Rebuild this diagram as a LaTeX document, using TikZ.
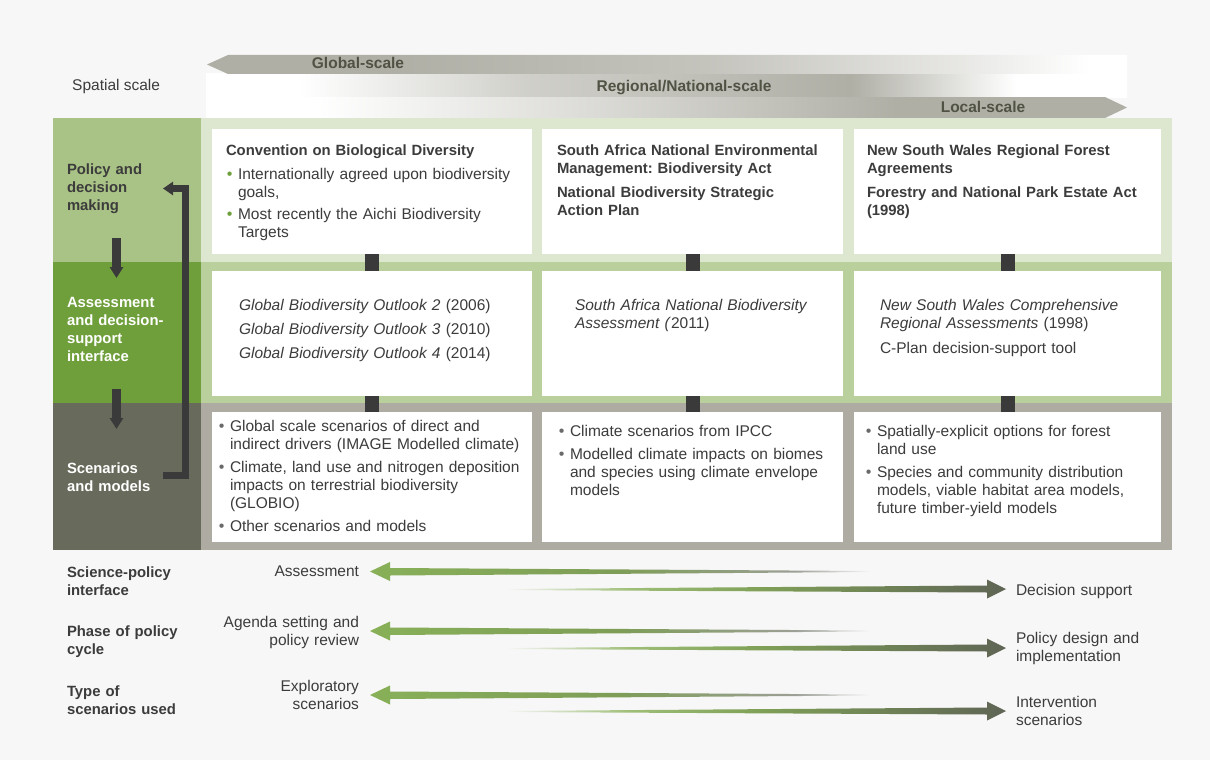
\documentclass[tikz,border=0pt]{standalone}
\usepackage{fontspec}
\setmainfont{Liberation Sans}
\usetikzlibrary{arrows.meta}
\definecolor{bg}{HTML}{F7F7F7}
\definecolor{lgA}{HTML}{A9C285}
\definecolor{rgA}{HTML}{DDE6CF}
\definecolor{lgB}{HTML}{6F9F3B}
\definecolor{rgB}{HTML}{B9CF9C}
\definecolor{lgC}{HTML}{686A5B}
\definecolor{rgC}{HTML}{AEACA2}
\definecolor{dk}{HTML}{3A3A3A}
\definecolor{txt}{HTML}{3C3C3C}
\definecolor{bandgray}{HTML}{B0AFA6}
\definecolor{bandtxt}{HTML}{505244}
\definecolor{agreen}{HTML}{88B058}
\definecolor{adark}{HTML}{5F6555}
\definecolor{bgreen}{HTML}{6F9F3B}
\definecolor{bgray}{HTML}{6A6A6A}
% path bounding box maps onto 25bp..75bp
\pgfdeclarehorizontalshading{globalsh}{100bp}{color(0bp)=(bandgray); color(35bp)=(bandgray); color(52bp)=(bandgray!75!white); color(66bp)=(bandgray!30!white); color(73bp)=(white); color(100bp)=(white)}
\pgfdeclarehorizontalshading{regionsh}{100bp}{color(0bp)=(white); color(30bp)=(white); color(42.5bp)=(bandgray!60!white); color(60bp)=(bandgray); color(69bp)=(white); color(100bp)=(white)}
\pgfdeclarehorizontalshading{localsh}{100bp}{color(0bp)=(white); color(31bp)=(white); color(47.5bp)=(bandgray!50!white); color(62.5bp)=(bandgray); color(100bp)=(bandgray)}
\pgfdeclarehorizontalshading{leftarr}{100bp}{color(0bp)=(agreen); color(25bp)=(agreen); color(50bp)=(agreen!75!adark); color(67.5bp)=(adark!60!bg); color(75bp)=(bg); color(100bp)=(bg)}
\pgfdeclarehorizontalshading{rightarr}{100bp}{color(0bp)=(bg); color(25bp)=(bg); color(37.5bp)=(agreen!80!bg); color(50bp)=(agreen!80!adark); color(75bp)=(adark); color(100bp)=(adark)}
\newcommand\fsz{\fontsize{15.5}{18}\selectfont}
\newcommand\fbz{\fontsize{14.85}{18}\selectfont\bfseries}
\newcommand\gbul{\makebox[0pt][r]{\textcolor{bgreen}{\fontsize{16}{16}\selectfont\textbullet}\hspace{5.5pt}}}
\newcommand\ybul{\makebox[0pt][r]{\textcolor{bgray}{\fontsize{16}{16}\selectfont\textbullet}\hspace{5.5pt}}}
\frenchspacing
\tikzset{
  cell/.style={anchor=north west, inner sep=0, outer sep=0, draw=none},
  box/.style={cell, fill=white},
  conn/.style={draw=dk, line width=14pt},
  tb/.style={anchor=base west, inner sep=0, outer sep=0, text width=#1, align=left, font=\fsz, text=txt},
  tr/.style={anchor=base east, inner sep=0, outer sep=0, text width=#1, align=right, font=\fsz, text=txt},
  lab/.style={anchor=base west, inner sep=0, outer sep=0, text width=140pt, align=left, font=\fbz},
  band/.style={anchor=base, inner sep=0, font=\fontsize{15.5}{18}\selectfont\bfseries, text=bandtxt},
  downarrow/.style={draw=dk, line width=9pt, -{Triangle[length=11pt,width=13pt]}},
  looparrow/.style={draw=dk, line width=7pt, -{Triangle[length=10pt,width=13pt]}},
}
\begin{document}
\begin{tikzpicture}[x=1pt,y=-1pt]
\useasboundingbox (0,0) rectangle (1210,760);
\fill[bg] (0,0) rectangle (1210,760);

% spatial scale bands
\node[anchor=base west, inner sep=0, font=\fsz, text=txt] (spatial) at (72,91) {Spatial scale};
\shade[shading=regionsh] (206,74) rectangle (1127,97.5);
\shade[shading=localsh] (206,97) -- (1105,97) -- (1127,107.5) -- (1105,118) -- (206,118) -- cycle;
\shade[shading=globalsh] (207,64.5) -- (228,55) -- (1127,55) -- (1127,74) -- (228,74) -- cycle;
\node[band] (gs) at (358,69) {Global-scale};
\node[band] (rs) at (684,92) {Regional/National-scale};
\node[band] (ls) at (983,112) {Local-scale};

% left column cells
\node[cell, fill=lgA, minimum width=148pt, minimum height=144pt] (lc1) at (53,118) {};
\node[cell, fill=lgB, minimum width=148pt, minimum height=141pt] (lc2) at (53,262) {};
\node[cell, fill=lgC, minimum width=148pt, minimum height=147pt] (lc3) at (53,403) {};
% right rows
\node[cell, fill=rgA, minimum width=971pt, minimum height=144pt] (rc1) at (201,118) {};
\node[cell, fill=rgB, minimum width=971pt, minimum height=141pt] (rc2) at (201,262) {};
\node[cell, fill=rgC, minimum width=971pt, minimum height=147pt] (rc3) at (201,403) {};

% boxes
\node[box, minimum width=320pt, minimum height=125pt] (b11) at (212,129) {};
\node[box, minimum width=301pt, minimum height=125pt] (b12) at (542,129) {};
\node[box, minimum width=307pt, minimum height=125pt] (b13) at (854,129) {};
\node[box, minimum width=320pt, minimum height=125pt] (b21) at (212,271) {};
\node[box, minimum width=301pt, minimum height=125pt] (b22) at (542,271) {};
\node[box, minimum width=307pt, minimum height=125pt] (b23) at (854,271) {};
\node[box, minimum width=320pt, minimum height=130pt] (b31) at (212,412) {};
\node[box, minimum width=301pt, minimum height=130pt] (b32) at (542,412) {};
\node[box, minimum width=307pt, minimum height=130pt] (b33) at (854,412) {};

% connectors
\draw[conn] (b11.south) -- (b21.north);
\draw[conn] (b12.south) -- (b22.north);
\draw[conn] (b13.south) -- (b23.north);
\draw[conn] (b21.south) -- (b31.north);
\draw[conn] (b22.south) -- (b32.north);
\draw[conn] (b23.south) -- (b33.north);

% left labels
\node[lab, text=txt] (l1) at (67,174) {Policy and\\decision\\making};
\node[lab, text=white] (l2) at (67,307) {Assessment\\and decision-\\support\\interface};
\node[lab, text=white] (l3) at (67,473) {Scenarios\\and models};

% left arrows
\coordinate (d1s) at (116.5,238);
\coordinate (d1e) at (116.5,278);
\coordinate (d2s) at (116.5,389);
\coordinate (d2e) at (116.5,429);
\draw[downarrow] (d1s) -- (d1e);
\draw[downarrow] (d2s) -- (d2e);
\coordinate (ls) at (163,475);
\coordinate (le) at (163,188.5);
\draw[looparrow] (ls) -- (185.5,475) -- (185.5,188.5) -- (le);

% row 1 texts
\node[tb=300pt, font=\fbz] (t11a) at (226,155) {Convention on Biological Diversity};
\node[tb=290pt] (t11b) at (238,179) {\gbul Internationally agreed upon biodiversity\\goals,};
\node[tb=290pt] (t11c) at (238,219) {\gbul Most recently the Aichi Biodiversity\\Targets};
\node[tb=285pt, font=\fbz] (t12a) at (557,155) {South Africa National Environmental\\Management: Biodiversity Act};
\node[tb=285pt, font=\fbz] (t12b) at (557,197) {National Biodiversity Strategic\\Action Plan};
\node[tb=290pt, font=\fbz] (t13a) at (867,155) {New South Wales Regional Forest\\Agreements};
\node[tb=290pt, font=\fbz] (t13b) at (867,197) {Forestry and National Park Estate Act\\(1998)};

% row 2 texts
\node[tb=290pt] (t21a) at (239,310) {\textit{Global Biodiversity Outlook 2} (2006)};
\node[tb=290pt] (t21b) at (239,334) {\textit{Global Biodiversity Outlook 3} (2010)};
\node[tb=290pt] (t21c) at (239,358) {\textit{Global Biodiversity Outlook 4} (2014)};
\node[tb=265pt] (t22) at (575,310) {\textit{South Africa National Biodiversity}\\\textit{Assessment (}2011)};
\node[tb=270pt] (t23a) at (880,310) {\textit{New South Wales Comprehensive}\\\textit{Regional Assessments} (1998)};
\node[tb=270pt] (t23b) at (880,353) {C-Plan decision-support tool};

% row 3 texts
\node[tb=300pt] (t31a) at (230,431) {\ybul Global scale scenarios of direct and\\indirect drivers (IMAGE Modelled climate)};
\node[tb=300pt] (t31b) at (230,472) {\ybul Climate, land use and nitrogen deposition\\impacts on terrestrial biodiversity\\(GLOBIO)};
\node[tb=300pt] (t31c) at (230,531) {\ybul Other scenarios and models};
\node[tb=270pt] (t32a) at (570,436) {\ybul Climate scenarios from IPCC};
\node[tb=270pt] (t32b) at (570,459) {\ybul Modelled climate impacts on biomes\\and species using climate envelope\\models};
\node[tb=280pt] (t33a) at (877,436) {\ybul Spatially-explicit options for forest\\land use};
\node[tb=280pt] (t33b) at (877,477) {\ybul Species and community distribution\\models, viable habitat area models,\\future timber-yield models};

% bottom labels
\node[lab, text=txt] (bl1) at (67,577) {Science-policy\\interface};
\node[lab, text=txt] (bl2) at (67,636) {Phase of policy\\cycle};
\node[lab, text=txt] (bl3) at (67,696) {Type of\\scenarios used};

% bottom arrows
\shade[shading=leftarr] (370,571.5) -- (390,562) -- (390,568) -- (870,571) -- (870,572) -- (390,575.5) -- (390,581) -- cycle;
\shade[shading=rightarr] (506,589) -- (987,585.5) -- (987,579.5) -- (1006,589) -- (987,598.5) -- (987,592.5) -- (506,590) -- cycle;
\shade[shading=leftarr] (370,631) -- (390,621.5) -- (390,627.5) -- (870,630.5) -- (870,631.5) -- (390,635) -- (390,640.5) -- cycle;
\shade[shading=rightarr] (506,648) -- (987,644.5) -- (987,638.5) -- (1006,648) -- (987,657.5) -- (987,651.5) -- (506,649) -- cycle;
\shade[shading=leftarr] (370,695) -- (390,685.5) -- (390,691.5) -- (870,694.5) -- (870,695.5) -- (390,699) -- (390,704.5) -- cycle;
\shade[shading=rightarr] (506,711) -- (987,707.5) -- (987,701.5) -- (1006,711) -- (987,720.5) -- (987,714.5) -- (506,712) -- cycle;

\node[tr=160pt] (al1) at (359,576) {Assessment};
\node[tr=160pt] (al2) at (359,627) {Agenda setting and\\policy review};
\node[tr=160pt] (al3) at (359,691) {Exploratory\\scenarios};
\node[tb=170pt] (ar1) at (1016,595) {Decision support};
\node[tb=170pt] (ar2) at (1016,643) {Policy design and\\implementation};
\node[tb=170pt] (ar3) at (1016,707) {Intervention\\scenarios};
\end{tikzpicture}
\end{document}
